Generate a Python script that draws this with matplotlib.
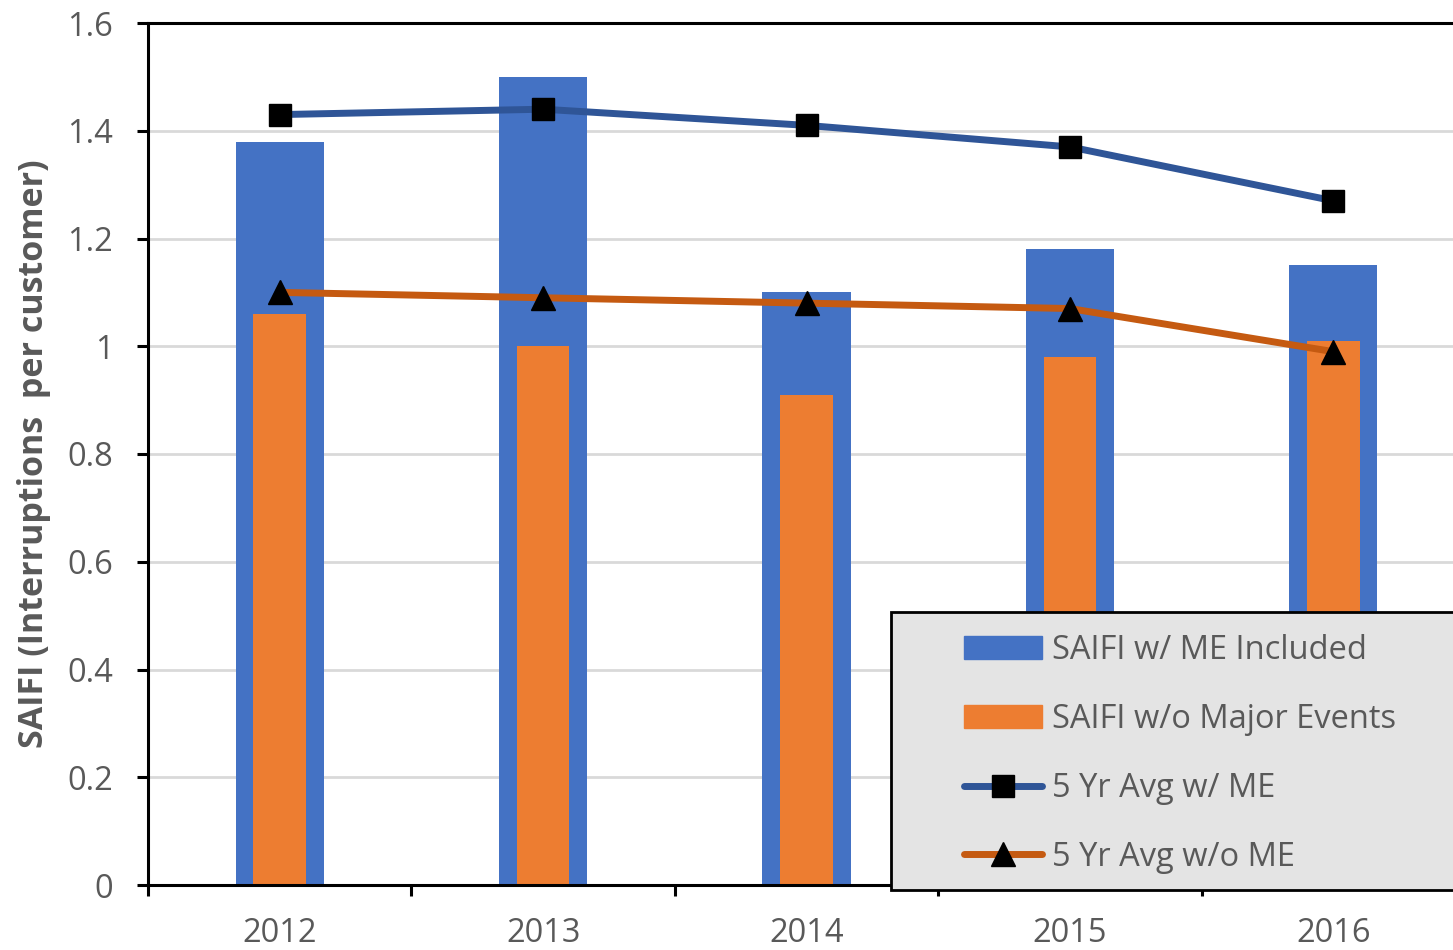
import matplotlib
matplotlib.use("Agg")
import matplotlib.pyplot as plt
from matplotlib.patches import Patch, Rectangle
from matplotlib.lines import Line2D

years = ["2012", "2013", "2014", "2015", "2016"]
saifi_me = [1.38, 1.50, 1.10, 1.18, 1.15]
saifi_no_me = [1.06, 1.00, 0.91, 0.98, 1.01]
avg_me = [1.43, 1.44, 1.41, 1.37, 1.27]
avg_no_me = [1.10, 1.09, 1.08, 1.07, 0.99]

plt.rcParams['font.family'] = ['Open Sans', 'DejaVu Sans']
gray = '#595959'

W, H = 1453, 950
fig = plt.figure(figsize=(W / 100, H / 100), dpi=100)
ax = fig.add_axes([148 / W, 65 / H, 1317 / W, 862 / H])

x = list(range(len(years)))
ax.bar(x, saifi_me, width=0.335, color='#4472C4', zorder=2)
ax.bar(x, saifi_no_me, width=0.2, color='#ED7D31', zorder=2)
ax.plot(x, avg_me, color='#2F5597', lw=5, marker='s', ms=16.5,
        mfc='black', mec='black', zorder=3, solid_capstyle='round')
ax.plot(x, avg_no_me, color='#C55A11', lw=5, marker='^', ms=17,
        mfc='black', mec='black', zorder=3, solid_capstyle='round')

ax.set_xlim(-0.5, 4.5)
ax.set_ylim(0, 1.6)
ax.set_yticks([0, 0.2, 0.4, 0.6, 0.8, 1, 1.2, 1.4, 1.6])
ax.set_yticklabels(['0', '0.2', '0.4', '0.6', '0.8', '1', '1.2', '1.4', '1.6'])
ax.set_xticks(x)
ax.set_xticklabels(years)
ax.set_xticks([i - 0.5 for i in range(len(years) + 1)], minor=True)
ax.tick_params(axis='x', which='major', length=0, pad=23, labelsize=23.5, labelcolor=gray)
ax.tick_params(axis='x', which='minor', length=8, width=2.2, direction='out')
ax.tick_params(axis='y', length=8, width=2.2, direction='out', pad=17,
               labelsize=23.5, labelcolor=gray)
ax.grid(axis='y', color='#d9d9d9', lw=2, zorder=0)
ax.set_axisbelow(True)
for s in ax.spines.values():
    s.set_linewidth(2.2)
    s.set_color('black')

ax.set_ylabel('SAIFI (Interruptions  per customer)', fontsize=24.5,
              fontweight='bold', color=gray, labelpad=12)

# legend box
box = Rectangle((891 / W, 60 / H), 600 / W, 278 / H, transform=fig.transFigure,
                facecolor='#e4e4e4', edgecolor='black', lw=2, zorder=4.5,
                clip_on=False)
ax.add_artist(box)

handles = [
    Patch(color='#4472C4'),
    Patch(color='#ED7D31'),
    Line2D([], [], color='#2F5597', lw=5, marker='s', ms=16.5, mfc='black',
           mec='black', solid_capstyle='round'),
    Line2D([], [], color='#C55A11', lw=5, marker='^', ms=17, mfc='black',
           mec='black', solid_capstyle='round'),
]
labels = ['SAIFI w/ ME Included', 'SAIFI w/o Major Events',
          '5 Yr Avg w/ ME', '5 Yr Avg w/o ME']
leg = ax.legend(handles, labels, loc='upper left',
                bbox_to_anchor=(964 / W, 1 - 634 / H), bbox_transform=fig.transFigure,
                frameon=False, borderpad=0, borderaxespad=0, fontsize=23.5,
                handlelength=2.4, handleheight=0.67, handletextpad=0.3,
                labelspacing=1.1, labelcolor=gray)
leg.set_zorder(5)

fig.savefig('out.png', dpi=100)
